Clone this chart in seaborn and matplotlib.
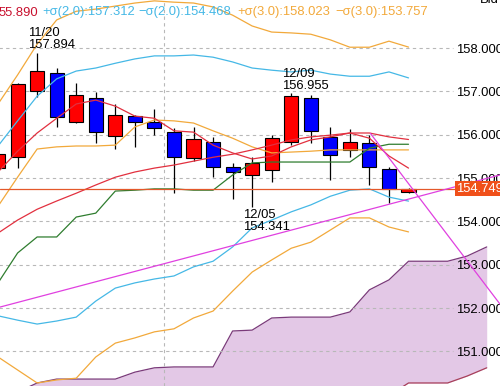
import numpy as np
import pandas as pd
import matplotlib
matplotlib.use('Agg')
import matplotlib.pyplot as plt
import seaborn as sns

# daily candles, 11/18 .. 12/17
dates = ['11/18', '11/19', '11/20', '11/21', '11/24', '11/25', '11/26', '11/27', '11/28',
         '12/01', '12/02', '12/03', '12/04', '12/05', '12/08', '12/09', '12/10', '12/11',
         '12/12', '12/15', '12/16', '12/17']
opens = [155.23, 155.48, 157.01, 157.42, 156.29, 156.85, 155.97, 156.43, 156.29, 156.06, 155.46,
         155.83, 155.25, 155.07, 155.18, 155.83, 156.85, 155.95, 155.65, 155.81, 155.21, 154.68]
highs = [155.70, 157.19, 157.894, 157.54, 157.19, 156.98, 156.71, 156.45, 156.59, 156.15, 156.18,
         155.95, 155.35, 155.48, 155.99, 156.955, 156.92, 156.18, 156.13, 155.99, 155.25, 154.76]
lows = [155.10, 155.23, 156.87, 156.18, 156.27, 155.81, 155.67, 155.72, 155.99, 154.65, 155.39,
        155.02, 154.52, 154.341, 154.91, 155.76, 155.81, 154.95, 155.48, 154.84, 154.42, 154.66]
closes = [155.55, 157.17, 157.47, 156.41, 156.92, 156.06, 156.45, 156.29, 156.15, 155.48, 155.90,
          155.25, 155.14, 155.35, 155.92, 156.89, 156.08, 155.53, 155.83, 155.25, 154.75, 154.749]

# indicators
sma5 = [155.14, 155.62, 156.04, 156.38, 156.71, 156.80, 156.66, 156.43, 156.38, 156.09, 156.06,
        155.76, 155.58, 155.44, 155.51, 155.72, 155.88, 155.95, 156.04, 155.92, 155.51, 155.23]
mid = [153.73, 154.03, 154.28, 154.47, 154.65, 154.84, 155.02, 155.14, 155.23, 155.30, 155.39,
       155.48, 155.55, 155.65, 155.76, 155.88, 155.95, 155.99, 156.04, 156.04, 155.95, 155.89]
up2 = [155.74, 156.32, 156.89, 157.29, 157.47, 157.54, 157.65, 157.75, 157.82, 157.82, 157.84,
       157.79, 157.68, 157.54, 157.49, 157.45, 157.49, 157.40, 157.35, 157.35, 157.45, 157.312]
lo2 = [151.82, 151.72, 151.63, 151.70, 151.79, 152.16, 152.46, 152.58, 152.67, 152.74, 152.95,
       153.08, 153.41, 153.85, 154.03, 154.22, 154.38, 154.58, 154.72, 154.75, 154.56, 154.468]
up3 = [156.71, 157.38, 158.09, 158.65, 158.85, 158.90, 158.97, 159.04, 159.09, 159.06, 159.04,
       158.95, 158.76, 158.51, 158.37, 158.35, 158.32, 158.19, 158.02, 158.02, 158.16, 158.023]
lo3 = [150.87, 150.57, 150.27, 150.34, 150.38, 150.87, 151.19, 151.31, 151.45, 151.52, 151.77,
       151.93, 152.39, 152.83, 153.11, 153.38, 153.52, 153.80, 154.08, 154.08, 153.87, 153.757]
tenkan = [154.35, 155.02, 155.67, 155.72, 155.74, 155.74, 155.76, 156.18, 156.34, 156.32, 156.27,
          156.09, 155.92, 155.72, 155.58, 155.60, 155.62, 155.65, 155.65, 155.65, 155.65, 155.65]
kijun = [152.58, 153.27, 153.64, 153.64, 154.10, 154.19, 154.70, 154.72, 154.75, 154.75, 154.72,
         154.72, 155.07, 155.35, 155.37, 155.37, 155.37, 155.37, 155.37, 155.69, 155.78, 155.78]
span_a = [149.88, 150.06, 150.27, 150.36, 150.36, 150.36, 150.36, 150.52, 150.62, 150.64, 150.64,
          150.64, 151.47, 151.49, 151.77, 151.79, 151.79, 151.79, 151.91, 152.42, 152.65, 153.08,
          153.08, 153.08, 153.20, 153.41]
span_b = [149.30, 149.30, 149.35, 149.35, 149.40, 149.40, 149.40, 149.45, 149.45, 149.50, 149.50,
          149.50, 149.55, 149.55, 149.60, 149.60, 149.70, 149.75, 149.80, 149.90, 149.98, 150.27,
          150.27, 150.27, 150.43, 150.62]
# hand drawn trend lines (index, price)
trend1_x = [0, 26]
trend1_y = [152.01, 155.11]
trend2_x = [19.05, 26]
trend2_y = [156.03, 151.90]

last_price = 154.749
price_ticks = [151, 152, 153, 154, 155, 156, 157, 158]

RED = '#ff0000'
BLUE = '#0000ff'
CYAN = '#45b8e6'
ORANGE = '#f2a93b'
MA_RED = '#e2303f'
GREEN = '#2f7d2f'
MAGENTA = '#e040e0'

sns.set_style('white')
plt.rcParams['font.family'] = ['Liberation Sans', 'DejaVu Sans']
FS = 9.4

fig = plt.figure(figsize=(5.0, 3.86), dpi=100)
ax = fig.add_axes([0, 0, 1, 1])
ax.set_xlim(0.10, 25.68)
ax.set_ylim(150.20, 159.11)
for s in ax.spines.values():
    s.set_visible(False)

idx = np.arange(len(closes))
cidx = np.arange(len(span_a))

# grid
ax.hlines(price_ticks, 0, 23.27, colors='#b8b8b8', linestyles=(0, (3, 3)), lw=0.8, zorder=1)
ax.axvline(8.5, color='#b8b8b8', ls=(0, (3, 3)), lw=0.8, zorder=1)

# cloud
ax.fill_between(cidx, span_a, span_b, color='#e3c8e6', lw=0, zorder=0.5)
df_cloud = pd.DataFrame({'i': cidx, 'a': span_a, 'b': span_b})
sns.lineplot(data=df_cloud, x='i', y='a', ax=ax, color='#7a3a7a', lw=0.9, zorder=0.6)
sns.lineplot(data=df_cloud, x='i', y='b', ax=ax, color='#a8405a', lw=0.9, zorder=0.6)

# candles
up = np.array(closes) >= np.array(opens)
body_lo = np.minimum(opens, closes)
body_h = np.abs(np.array(closes) - np.array(opens))
ax.vlines(idx, lows, highs, color='black', lw=0.9, zorder=1.9)
ax.bar(idx, body_h, bottom=body_lo, width=0.72, color=np.where(up, RED, BLUE),
       edgecolor='black', linewidth=0.8, zorder=2)

# indicator lines
df = pd.DataFrame({'i': idx, 'sma5': sma5, 'mid': mid, 'up2': up2, 'lo2': lo2,
                   'up3': up3, 'lo3': lo3, 'tenkan': tenkan, 'kijun': kijun})
styles = [('up3', ORANGE), ('lo3', ORANGE), ('up2', CYAN), ('lo2', CYAN),
          ('tenkan', ORANGE), ('kijun', GREEN), ('mid', MA_RED), ('sma5', MA_RED)]
for col, c in styles:
    sns.lineplot(data=df, x='i', y=col, ax=ax, color=c, lw=0.9, zorder=3)

# current price
ax.axhline(last_price, color='#e4582a', lw=0.9, zorder=3.5)

# trend lines
sns.lineplot(x=trend1_x, y=trend1_y, ax=ax, color=MAGENTA, lw=0.9, zorder=4)
sns.lineplot(x=trend2_x, y=trend2_y, ax=ax, color=MAGENTA, lw=0.9, zorder=4)

# price axis labels (inside, right)
ax.set_yticks(price_ticks)
ax.set_yticklabels(['%.3f' % p for p in price_ticks])
ax.yaxis.tick_right()
ax.tick_params(axis='y', direction='in', length=0, pad=-31.8, labelsize=FS,
               labelcolor='black')
ax.set_xticks([])
ax.set_xlabel('')
ax.set_ylabel('')
ax.text(23.45, last_price, '%.3f' % last_price, color='white', fontsize=FS,
        ha='left', va='center', zorder=6,
        bbox=dict(boxstyle='square,pad=0.12', fc='#f0501a', ec='none'))

# high / low annotations
for i, lab, y, va in [(2, dates[2], highs[2], 'bottom'), (15, dates[15], highs[15], 'bottom'),
                      (13, dates[13], lows[13], 'top')]:
    off = 1 if va == 'bottom' else -2
    ax.annotate('%s\n%.3f' % (lab, y), (i - 0.47, y), xytext=(0, off),
                textcoords='offset points', ha='left', va=va, fontsize=FS,
                linespacing=1.0, color='black', zorder=6)

# legend strip
legend = [('55.890', -1, '#c8102e'), ('+σ(2.0):157.312', 42, CYAN),
          ('−σ(2.0):154.468', 138, CYAN), ('+σ(3.0):158.023', 237, ORANGE),
          ('−σ(3.0):153.757', 335, ORANGE)]
for t, px, c in legend:
    fig.text(px / 500, 1 - 12.5 / 386, t, color=c, fontsize=FS, ha='left', va='center')
fig.text(480 / 500, 1 - 3 / 386, 'Bid', color='black', fontsize=FS, ha='left', va='baseline')

if ax.get_legend():
    ax.get_legend().remove()
fig.savefig('out.png', dpi=100)
